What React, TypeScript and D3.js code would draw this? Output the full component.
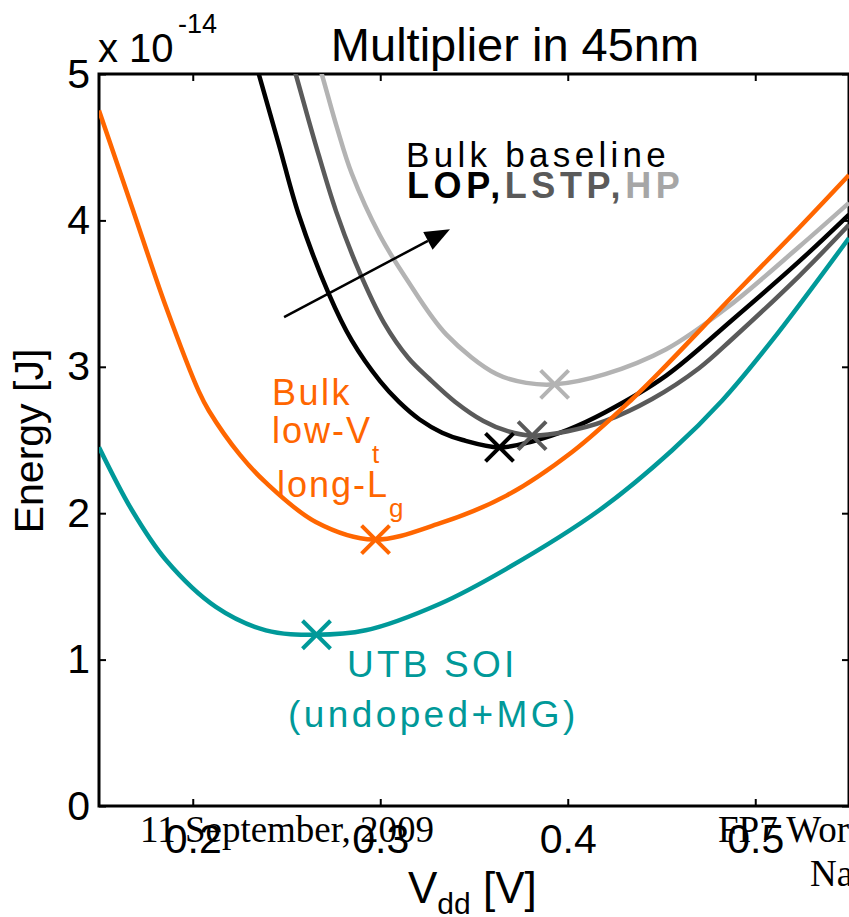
import { useEffect, useRef } from "react";
import * as d3 from "d3";

// Vdd [V] and energy [x1e-14 J]
const lopV = [0.232, 0.2352, 0.2459, 0.2565, 0.2725, 0.2848, 0.3, 0.31, 0.321, 0.333, 0.344, 0.3636, 0.381, 0.4, 0.42, 0.4525, 0.4877, 0.5234, 0.55];
const lopE = [5.15, 5.0, 4.52, 4.04, 3.5, 3.18, 2.9, 2.76, 2.64, 2.55, 2.5, 2.45, 2.49, 2.57, 2.69, 2.94, 3.32, 3.72, 4.04];

const lstpV = [0.251, 0.2549, 0.2655, 0.2765, 0.2885, 0.302, 0.315, 0.326, 0.34, 0.355, 0.368, 0.381, 0.4, 0.42, 0.445, 0.47, 0.4877, 0.5234, 0.55];
const lstpE = [5.17, 5.0, 4.52, 4.06, 3.66, 3.3, 3.06, 2.92, 2.76, 2.63, 2.56, 2.53, 2.56, 2.63, 2.78, 2.99, 3.19, 3.62, 3.97];

const hpV = [0.265, 0.2688, 0.277, 0.2848, 0.2997, 0.314, 0.3353, 0.362, 0.378, 0.393, 0.42, 0.4525, 0.4845, 0.5234, 0.55];
const hpE = [5.16, 5.0, 4.63, 4.32, 3.9, 3.6, 3.22, 2.95, 2.89, 2.88, 2.95, 3.12, 3.4, 3.82, 4.12];

const lowVtV = [0.15, 0.1676, 0.1857, 0.2033, 0.2086, 0.2251, 0.2389, 0.2656, 0.2965, 0.3316, 0.3673, 0.4025, 0.4344, 0.4525, 0.4877, 0.5234, 0.55];
const lowVtE = [4.75, 4.09, 3.41, 2.83, 2.7, 2.4, 2.21, 1.94, 1.82, 1.93, 2.12, 2.42, 2.78, 3.01, 3.48, 3.95, 4.31];

const utbV = [0.15, 0.1676, 0.1857, 0.2123, 0.239, 0.2656, 0.2922, 0.3316, 0.3673, 0.4168, 0.4557, 0.4824, 0.509, 0.55];
const utbE = [2.45, 2.02, 1.68, 1.36, 1.2, 1.17, 1.2, 1.38, 1.62, 2.02, 2.43, 2.77, 3.18, 3.88];

// minimum-energy points (Vdd, E)
const lopMin = [0.3636, 2.45];
const lstpMin = [0.381, 2.53];
const hpMin = [0.393, 2.88];
const lowVtMin = [0.2975, 1.82];
const utbMin = [0.266, 1.17];

const xTicks = [0.2, 0.3, 0.4, 0.5];
const yTicks = [0, 1, 2, 3, 4, 5];

const SANS = "'Liberation Sans', Arial, Helvetica, sans-serif";
const SERIF = "'Liberation Serif', 'Times New Roman', serif";

export default function App() {
  const ref = useRef<SVGSVGElement>(null);

  useEffect(() => {
    const svg = d3.select(ref.current);
    svg.selectAll("*").remove();

    const left = 99, right = 849, top = 74, bottom = 806;
    const x = d3.scaleLinear().domain([0.15, 0.55]).range([left, right]);
    const y = d3.scaleLinear().domain([0, 5]).range([bottom, top]);

    svg.append("defs").append("clipPath").attr("id", "plot-clip")
      .append("rect").attr("x", left).attr("y", top)
      .attr("width", right - left).attr("height", bottom - top);

    // slide footer bleeding through (sits under the tick labels)
    svg.append("text").attr("x", 140).attr("y", 842).attr("font-family", SERIF)
      .attr("font-size", 37).text("11 September, 2009");
    svg.append("text").attr("x", 718).attr("y", 842).attr("font-family", SERIF)
      .attr("font-size", 37).text("FP7 Workshop");
    svg.append("text").attr("x", 810).attr("y", 886).attr("font-family", SERIF)
      .attr("font-size", 37).text("Nano");

    // axes with inward ticks
    const gx = svg.append("g").attr("transform", `translate(0,${bottom})`)
      .call(d3.axisBottom(x).tickValues(xTicks).tickSize(-7).tickPadding(18).tickFormat(d3.format(".1f")));
    svg.append("g").attr("transform", `translate(0,${top})`)
      .call(d3.axisTop(x).tickValues(xTicks).tickSize(-7).tickFormat(() => ""));
    const gy = svg.append("g").attr("transform", `translate(${left},0)`)
      .call(d3.axisLeft(y).tickValues(yTicks).tickSize(-7).tickPadding(9).tickFormat(d3.format("d")));
    svg.append("g").attr("transform", `translate(${right},0)`)
      .call(d3.axisRight(y).tickValues(yTicks).tickSize(-7).tickFormat(() => ""));

    svg.selectAll(".domain").remove();
    svg.selectAll(".tick line").attr("stroke", "#000").attr("stroke-width", 2);
    [gx, gy].forEach(g => g.selectAll("text")
      .attr("font-family", SANS).attr("font-size", 41).attr("fill", "#000"));

    svg.append("rect").attr("x", left).attr("y", top)
      .attr("width", right - left).attr("height", bottom - top)
      .attr("fill", "none").attr("stroke", "#000").attr("stroke-width", 3);

    // curves
    const series = [
      { v: hpV, e: hpE, min: hpMin, color: "#b3b3b3" },
      { v: lopV, e: lopE, min: lopMin, color: "#000000" },
      { v: lstpV, e: lstpE, min: lstpMin, color: "#5a5a5a" },
      { v: lowVtV, e: lowVtE, min: lowVtMin, color: "#ff6600" },
      { v: utbV, e: utbE, min: utbMin, color: "#009999" },
    ];

    const line = d3.line<[number, number]>()
      .x(d => x(d[0])).y(d => y(d[1]))
      .curve(d3.curveCatmullRom.alpha(0.5));

    const plot = svg.append("g").attr("clip-path", "url(#plot-clip)");
    series.forEach(s => {
      const pts = s.v.map((v, i) => [v, s.e[i]] as [number, number]);
      plot.append("path").datum(pts).attr("d", line)
        .attr("fill", "none").attr("stroke", s.color)
        .attr("stroke-width", 4.5).attr("stroke-linejoin", "round");
    });

    series.forEach(s => {
      const cx = x(s.min[0]), cy = y(s.min[1]), r = 14;
      svg.append("path")
        .attr("d", `M${cx - r},${cy - r}L${cx + r},${cy + r}M${cx - r},${cy + r}L${cx + r},${cy - r}`)
        .attr("stroke", s.color).attr("stroke-width", 4).attr("fill", "none");
    });

    // arrow
    const ax0 = x(0.2487), ay0 = y(3.34), ax1 = x(0.3372), ay1 = y(3.94);
    const ang = Math.atan2(ay1 - ay0, ax1 - ax0);
    const hl = 25, hw = 10;
    const bx = ax1 - hl * Math.cos(ang), by = ay1 - hl * Math.sin(ang);
    svg.append("line").attr("x1", ax0).attr("y1", ay0).attr("x2", bx).attr("y2", by)
      .attr("stroke", "#000").attr("stroke-width", 2.5);
    svg.append("path")
      .attr("d", `M${ax1},${ay1}L${bx + hw * Math.sin(ang)},${by - hw * Math.cos(ang)}L${bx - hw * Math.sin(ang)},${by + hw * Math.cos(ang)}Z`)
      .attr("fill", "#000");

    // titles
    svg.append("text").attr("x", 515).attr("y", 61).attr("text-anchor", "middle")
      .attr("font-family", SANS).attr("font-size", 47).text("Multiplier in 45nm");

    const mult = svg.append("text").attr("x", 98).attr("y", 62)
      .attr("font-family", SANS).attr("font-size", 40);
    mult.append("tspan").text("x 10");
    mult.append("tspan").attr("x", 178).attr("y", 33).attr("font-size", 27).text("-14");

    svg.append("text")
      .attr("transform", `translate(43,441) rotate(-90)`)
      .attr("text-anchor", "middle").attr("font-family", SANS).attr("font-size", 41)
      .text("Energy [J]");

    const xl = svg.append("text").attr("x", 408).attr("y", 903)
      .attr("font-family", SANS).attr("font-size", 44);
    xl.append("tspan").text("V");
    xl.append("tspan").attr("dy", 11).attr("font-size", 30).text("dd");
    xl.append("tspan").attr("dy", -11).text(" [V]");

    // annotations
    svg.append("text").attr("x", 406).attr("y", 167)
      .attr("font-family", SANS).attr("font-size", 35).attr("letter-spacing", 4.3)
      .text("Bulk baseline");
    const flav = svg.append("text").attr("x", 407).attr("y", 198)
      .attr("font-family", SANS).attr("font-size", 36).attr("font-weight", "bold")
      .attr("letter-spacing", 4.6);
    flav.append("tspan").attr("fill", "#000").text("LOP,");
    flav.append("tspan").attr("fill", "#5a5a5a").text("LSTP,");
    flav.append("tspan").attr("fill", "#a6a6a6").text("HP");

    const orange = "#ff6600";
    svg.append("text").attr("x", 272).attr("y", 405).attr("font-family", SANS)
      .attr("font-size", 36).attr("fill", orange).attr("letter-spacing", 2.5).text("Bulk");
    const o2 = svg.append("text").attr("x", 272).attr("y", 443).attr("font-family", SANS)
      .attr("font-size", 36).attr("fill", orange).attr("letter-spacing", 2);
    o2.append("tspan").text("low-V");
    o2.append("tspan").attr("dy", 20).attr("font-size", 26).text("t");
    const o3 = svg.append("text").attr("x", 277).attr("y", 497).attr("font-family", SANS)
      .attr("font-size", 36).attr("fill", orange).attr("letter-spacing", 2);
    o3.append("tspan").text("long-L");
    o3.append("tspan").attr("dy", 20).attr("font-size", 26).text("g");

    const teal = "#009999";
    svg.append("text").attr("x", 347).attr("y", 677).attr("font-family", SANS)
      .attr("font-size", 37).attr("fill", teal).attr("letter-spacing", 3.2).text("UTB SOI");
    svg.append("text").attr("x", 288).attr("y", 727).attr("font-family", SANS)
      .attr("font-size", 37).attr("fill", teal).attr("letter-spacing", 3.4).text("(undoped+MG)");
  }, []);

  return (
    <svg ref={ref} width={849} height={917}
      style={{ position: "absolute", left: 0, top: 0, background: "#fff" }} />
  );
}
